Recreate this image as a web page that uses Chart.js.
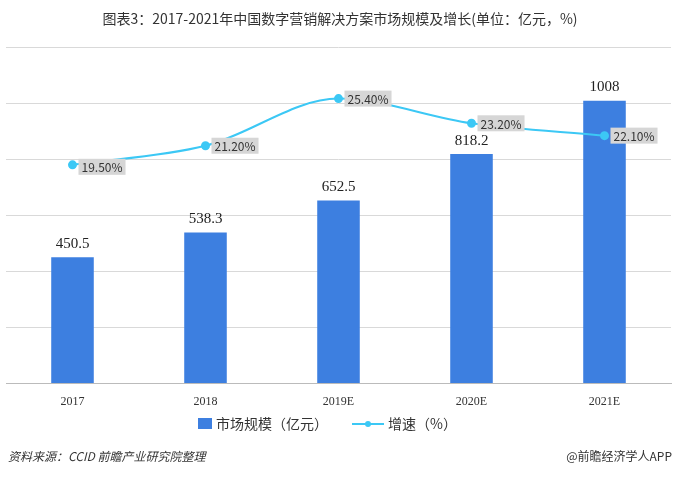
<!DOCTYPE html><html><head><meta charset="utf-8">
<script src="https://cdn.jsdelivr.net/npm/chart.js@4/dist/chart.umd.min.js"></script>
<style>body{margin:0;background:#fff}#w{width:680px;height:477px;position:relative}</style></head><body>
<div id="w"><canvas id="c"></canvas></div>
<script>
const categories=['2017','2018','2019E','2020E','2021E'];
const marketSize=[450.5,538.3,652.5,818.2,1008];
const growth=[19.5,21.2,25.4,23.2,22.1];
const growthLabels=['19.50%','21.20%','25.40%','23.20%','22.10%'];
const titleText='图表3：2017-2021年中国数字营销解决方案市场规模及增长(单位：亿元，%)';
const sans='"Noto Sans CJK SC","Noto Sans",sans-serif';
const deco={id:'deco',afterDatasetsDraw(ch){
 const c=ch.ctx,x=ch.scales.x,y=ch.scales.y,y2=ch.scales.y2;
 c.save();
 c.fillStyle='#333';c.font='14px '+sans;c.textAlign='center';c.textBaseline='middle';
 c.fillText(titleText,340,19);
 c.font='15px "Liberation Serif",serif';c.fillStyle='#222';c.textBaseline='bottom';
 marketSize.forEach((v,i)=>c.fillText(String(v),x.getPixelForValue(i),y.getPixelForValue(v)-6));
 c.font='12px '+sans;c.textBaseline='middle';c.textAlign='left';
 growth.forEach((v,i)=>{const px=x.getPixelForValue(i)+6,py=y2.getPixelForValue(v)+(i==0?2:0);
  const w=c.measureText(growthLabels[i]).width+6;c.fillStyle='#d6d6d6';c.fillRect(px,py-8,w,16);
  c.fillStyle='#333';c.fillText(growthLabels[i],px+3,py+1);});
 c.fillStyle='#3d7fe0';c.fillRect(198,418,14,11);
 c.fillStyle='#333';c.font='14px '+sans;c.fillText('市场规模（亿元）',216,424);
 c.strokeStyle='#3cc8f5';c.lineWidth=2;c.beginPath();c.moveTo(352,424);c.lineTo(384,424);c.stroke();
 c.fillStyle='#3cc8f5';c.beginPath();c.arc(368,424,3,0,7);c.fill();
 c.fillStyle='#333';c.fillText('增速（%）',388,424);
 c.font='italic 12px '+sans;c.fillStyle='#333';c.fillText('资料来源：CCID 前瞻产业研究院整理',8,456);
 c.textAlign='right';c.font='12px '+sans;c.fillText('@前瞻经济学人APP',672,456);
 c.restore();}};
new Chart(document.getElementById('c'),{data:{labels:categories,datasets:[
 {type:'line',data:growth,yAxisID:'y2',borderColor:'#3cc8f5',backgroundColor:'#3cc8f5',borderWidth:2,pointRadius:3.5,tension:0.4,cubicInterpolationMode:'monotone',order:0},
 {type:'bar',data:marketSize,yAxisID:'y',backgroundColor:'#3d7fe0',categoryPercentage:1,barPercentage:0.32,order:1}]},
 options:{responsive:true,maintainAspectRatio:false,animation:false,
 layout:{padding:{top:47,left:5,right:9,bottom:65}},
 plugins:{legend:{display:false},tooltip:{enabled:false}},
 scales:{x:{grid:{display:false},border:{color:'#bbb'},ticks:{color:'#333',font:{family:'"Liberation Serif",serif',size:12}}},
  y:{min:0,max:1200,ticks:{display:false,stepSize:200},border:{display:false},grid:{color:'#d9d9d9',drawTicks:false}},
  y2:{display:false,min:0,max:30}}},plugins:[deco]});
</script></body></html>
